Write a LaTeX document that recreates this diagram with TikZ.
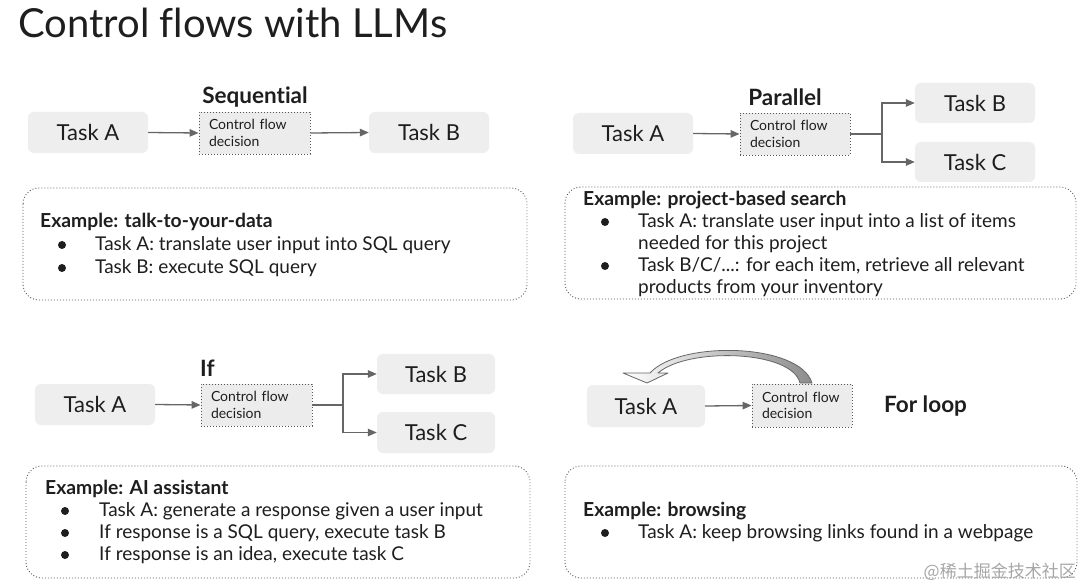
\documentclass[tikz,border=0pt]{standalone}
\usepackage{fontspec}
\setmainfont{Lato}[Ligatures=NoCommon]
\newfontfamily\cjkfont{Noto Sans CJK SC}
\usetikzlibrary{arrows.meta}
\definecolor{boxgray}{HTML}{EEEEEE}
\definecolor{cfdgray}{HTML}{ECECEC}
\definecolor{arrgray}{HTML}{666666}
\definecolor{txt}{HTML}{1E1E1E}
\definecolor{dotgray}{HTML}{555555}
\begin{document}
\begin{tikzpicture}[x=1pt,y=-1pt,
  task/.style={fill=boxgray, rounded corners=6pt, minimum width=120pt, minimum height=41pt, inner sep=0pt, text=txt, font=\fontsize{22}{26}\selectfont},
  cfd/.style={fill=cfdgray, draw=dotgray, line width=0.9pt, dash pattern=on 0.9pt off 2.1pt, minimum width=111pt, minimum height=42pt, inner xsep=10pt, inner ysep=0pt, text width=91pt, align=left, text=txt, font=\fontsize{14}{16.5}\selectfont},
  exbox/.style={draw=dotgray, line width=0.9pt, dash pattern=on 0.9pt off 2.1pt, rounded corners=16pt},
  arr/.style={draw=arrgray, line width=1.3pt, -{Triangle[length=9pt,width=7.5pt]}},
  stem/.style={draw=arrgray, line width=1.3pt},
  head/.style={font=\fontsize{22.5}{26}\selectfont\bfseries, text=txt, inner sep=0pt},
  exhead/.style={font=\fontsize{19.3}{23}\selectfont\bfseries, text=txt, anchor=west, inner sep=0pt},
  item/.style={font=\fontsize{19}{23}\selectfont, text=txt, anchor=west, inner sep=0pt},
  dot/.style={circle, fill=txt, minimum size=8pt, inner sep=0pt}
]
\useasboundingbox[fill=white] (0,0) rectangle (1080,588);

% Title
\node[anchor=base west, inner sep=0pt, text=txt, font=\fontsize{40}{46}\selectfont] (title) at (18,38) {Control flows with LLMs};

% ---------- Sequential ----------
\node[head] (seqh) at (255,97) {Sequential};
\node[task] (sa) at (88,132.5) {Task A};
\node[cfd] (sc) at (254.5,133) {Control flow\\decision};
\node[task] (sb) at (429,132.5) {Task B};
\draw[arr] (sa.east) -- (sc.west);
\draw[arr] (sc.east) -- (sb.west);
\draw[exbox] (23,188) rectangle (527,300);
\node[exhead] (se) at (40,222) {Example: talk-to-your-data};
\node[dot] (sd1) at (62,245) {};
\node[item] (si1) at (95,245) {Task A: translate user input into SQL query};
\node[dot] (sd2) at (62,268) {};
\node[item] (si2) at (95,268) {Task B: execute SQL query};

% ---------- Parallel ----------
\node[head] (parh) at (785,97) {Parallel};
\node[task] (pa) at (633,133.5) {Task A};
\node[cfd, minimum width=110pt, text width=90pt] (pc) at (795,134) {Control flow\\decision};
\node[task, minimum height=40pt] (pb) at (975,103) {Task B};
\node[task, minimum height=40pt] (pcc) at (975,162) {Task C};
\coordinate (pj) at (882,134);
\draw[arr] (pa.east) -- (pc.west);
\draw[stem] (pc.east) -- (pj);
\draw[arr] (pj) |- (pb.west);
\draw[arr] (pj) |- (pcc.west);
\draw[exbox] (565,187) rectangle (1076,299);
\node[exhead] (pe) at (583,200) {Example: project-based search};
\node[dot] (pd1) at (605,222) {};
\node[item] (pi1) at (638,222) {Task A: translate user input into a list of items};
\node[item] (pi1b) at (638,244) {needed for this project};
\node[dot] (pd2) at (605,266) {};
\node[item] (pi2) at (638,266) {Task B/C/...: for each item, retrieve all relevant};
\node[item] (pi2b) at (638,288) {products from your inventory};

% ---------- If ----------
\node[head, anchor=west] (ifh) at (200,368) {If};
\node[task] (ia) at (95,404.5) {Task A};
\node[cfd] (ic) at (256.5,405) {Control flow\\decision};
\node[task, minimum width=118pt, minimum height=40pt] (ib) at (436,374) {Task B};
\node[task, minimum width=118pt] (icc) at (436,432.5) {Task C};
\coordinate (ij) at (343,405);
\draw[arr] (ia.east) -- (ic.west);
\draw[stem] (ic.east) -- (ij);
\draw[arr] (ij) |- (ib.west);
\draw[arr] (ij) |- (icc.west);
\draw[exbox] (26,466) rectangle (530,578);
\node[exhead] (ie) at (45,489) {Example: AI assistant};
\node[dot] (id1) at (65,511) {};
\node[item] (ii1) at (99,511) {Task A: generate a response given a user input};
\node[dot] (id2) at (65,533) {};
\node[item] (ii2) at (99,533) {If response is a SQL query, execute task B};
\node[dot] (id3) at (65,555) {};
\node[item] (ii3) at (99,555) {If response is an idea, execute task C};

% ---------- For loop ----------
\node[task, minimum width=118pt, minimum height=42pt] (la) at (646,406) {Task A};
\node[cfd, minimum width=100pt, minimum height=43pt, text width=80pt] (lc) at (802,405.5) {Control flow\\decision};
\node[head, anchor=west] (lh) at (884,406) {For loop};
\draw[arr] (la.east) -- (lc.west);
\draw[draw=arrgray, line width=0.8pt, left color=white, right color=black!45, line join=round]
  (623,373) -- (647,383) -- (668,373) -- (658,373)
  .. controls (688,347) and (792,350) .. (800,383)
  -- (812,383)
  .. controls (800,343) and (680,340) .. (650,373)
  -- cycle;
\draw[exbox] (565,466) rectangle (1077,578);
\node[exhead] (le) at (583,511) {Example: browsing};
\node[dot] (ld1) at (605,533) {};
\node[item] (li1) at (638,533) {Task A: keep browsing links found in a webpage};

% watermark
\node[anchor=east, inner sep=0pt, text=black!35, font=\cjkfont\fontsize{17}{20}\selectfont] (wm) at (1076,572) {@稀土掘金技术社区};
\end{tikzpicture}
\end{document}
